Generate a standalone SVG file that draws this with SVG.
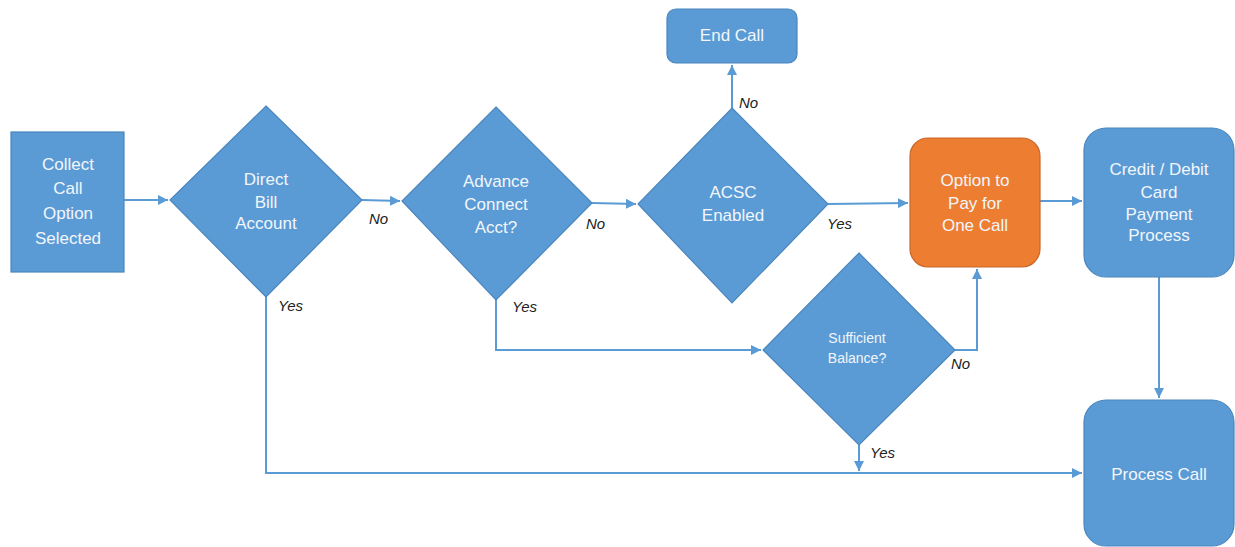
<svg xmlns="http://www.w3.org/2000/svg" width="1235" height="547" viewBox="0 0 1235 547">
<defs>
<marker id="arr" viewBox="0 0 10 10" refX="10" refY="5" markerWidth="5" markerHeight="5" orient="auto" markerUnits="strokeWidth">
<path d="M0,0 L10,5 L0,10 z" fill="#5B9BD5"/>
</marker>
<style>
.node{fill:#5B9BD5;stroke:#4A86BE;stroke-width:1.2}
.orange{fill:#ED7D31;stroke:#C8682A;stroke-width:1.2}
.t{font-family:"Liberation Sans",Arial,sans-serif;font-size:17px;fill:#F2F6FB;text-anchor:middle}
.ts{font-family:"Liberation Sans",Arial,sans-serif;font-size:14px;fill:#F2F6FB;text-anchor:middle}
.lbl{font-family:"Liberation Sans",Arial,sans-serif;font-size:15px;font-style:italic;fill:#222}
.c{fill:none;stroke:#5B9BD5;stroke-width:2}
</style>
</defs>
<rect width="1235" height="547" fill="#FFFFFF"/>
<g id="connectors">
<path class="c" d="M124,200 L168,200" marker-end="url(#arr)"/>
<path class="c" d="M362,200 L400,201" marker-end="url(#arr)"/>
<path class="c" d="M592,203 L636,204" marker-end="url(#arr)"/>
<path class="c" d="M732,108 L732,65" marker-end="url(#arr)"/>
<path class="c" d="M828,204 L908,203" marker-end="url(#arr)"/>
<path class="c" d="M1040,201 L1082,201" marker-end="url(#arr)"/>
<path class="c" d="M1159,277 L1159,398" marker-end="url(#arr)"/>
<path class="c" d="M955,350 L977,350 L977,269" marker-end="url(#arr)"/>
<path class="c" d="M859,445 L859,471" marker-end="url(#arr)"/>
<path class="c" d="M266,297 L266,473 L1082,473" marker-end="url(#arr)"/>
<path class="c" d="M496,300 L496,350 L761,350" marker-end="url(#arr)"/>
<text class="lbl" x="369" y="224">No</text>
<text class="lbl" x="278" y="311">Yes</text>
<text class="lbl" x="586" y="229">No</text>
<text class="lbl" x="512" y="312">Yes</text>
<text class="lbl" x="739" y="108">No</text>
<text class="lbl" x="827" y="229">Yes</text>
<text class="lbl" x="951" y="369">No</text>
<text class="lbl" x="870" y="458">Yes</text>
</g>
<g id="collect">
<rect class="node" x="11" y="132" width="113" height="140"/>
<text class="t" x="68" y="170">Collect</text>
<text class="t" x="68" y="194">Call</text>
<text class="t" x="68" y="219">Option</text>
<text class="t" x="68" y="244">Selected</text>
</g>
<g id="direct-bill">
<polygon class="node" points="266,106 362,200 266,297 170,200"/>
<text class="t" x="266" y="185">Direct</text>
<text class="t" x="266" y="208">Bill</text>
<text class="t" x="266" y="229">Account</text>
</g>
<g id="advance-connect">
<polygon class="node" points="496,107 592,203 496,300 402,201"/>
<text class="t" x="496" y="187">Advance</text>
<text class="t" x="496" y="210">Connect</text>
<text class="t" x="496" y="233">Acct?</text>
</g>
<g id="acsc">
<polygon class="node" points="732,108 828,204 732,303 638,204"/>
<text class="t" x="733" y="198">ACSC</text>
<text class="t" x="733" y="221">Enabled</text>
</g>
<g id="end-call">
<rect class="node" x="667" y="9" width="130" height="54" rx="9"/>
<text class="t" x="732" y="41">End Call</text>
</g>
<g id="option-pay">
<rect class="orange" x="910" y="138" width="130" height="129" rx="18"/>
<text class="t" x="975" y="186">Option to</text>
<text class="t" x="975" y="209">Pay for</text>
<text class="t" x="975" y="231">One Call</text>
</g>
<g id="credit-debit">
<rect class="node" x="1084" y="128" width="150" height="149" rx="22"/>
<text class="t" x="1159" y="175">Credit / Debit</text>
<text class="t" x="1159" y="198">Card</text>
<text class="t" x="1159" y="220">Payment</text>
<text class="t" x="1159" y="241">Process</text>
</g>
<g id="sufficient-balance">
<polygon class="node" points="859,253 955,350 859,445 763,350"/>
<text class="ts" x="857" y="343">Sufficient</text>
<text class="ts" x="857" y="363">Balance?</text>
</g>
<g id="process-call">
<rect class="node" x="1084" y="400" width="150" height="146" rx="22"/>
<text class="t" x="1159" y="480">Process Call</text>
</g>
</svg>
